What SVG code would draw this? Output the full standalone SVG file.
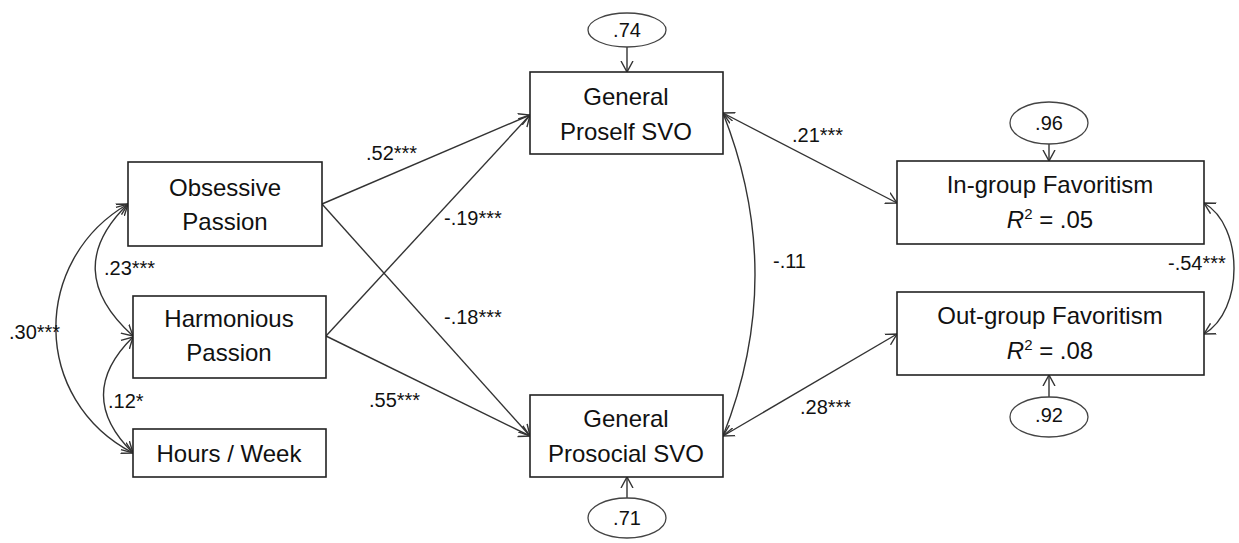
<svg xmlns="http://www.w3.org/2000/svg" width="1239" height="543" viewBox="0 0 1239 543">
<style>
.box{fill:#fff;stroke:#222;stroke-width:1.6}
.ell{fill:#fff;stroke:#444;stroke-width:1.3}
.nt{font-family:"Liberation Sans",Arial,sans-serif;font-size:24px;fill:#111;text-anchor:middle}
.lb{font-family:"Liberation Sans",Arial,sans-serif;font-size:20px;fill:#111}
.et{font-family:"Liberation Sans",Arial,sans-serif;font-size:20px;fill:#111;text-anchor:middle}
.c{fill:none;stroke:#333;stroke-width:1.4}
.one{marker-end:url(#ah)}
.two{marker-end:url(#ah);marker-start:url(#ah)}
</style>
<defs>
<marker id="ah" markerUnits="userSpaceOnUse" markerWidth="14" markerHeight="14" refX="11" refY="6" orient="auto-start-reverse" viewBox="0 0 14 12">
<path d="M0,0 L11,6 L0,12" fill="none" stroke="#333" stroke-width="1.4"/>
</marker>
</defs>
<g id="connectors">
<line class="c one" x1="322" y1="204" x2="530" y2="115"/>
<line class="c one" x1="322" y1="204" x2="530" y2="436"/>
<line class="c one" x1="326" y1="336" x2="530" y2="115"/>
<line class="c one" x1="326" y1="336" x2="530" y2="436"/>
<line class="c two" x1="723" y1="113" x2="897" y2="203"/>
<line class="c two" x1="723" y1="436" x2="897" y2="334"/>
<path class="c two" d="M723,113 Q787,275 723,436"/>
<path class="c two" d="M1204,203 C1244,226 1244,311 1204,334"/>
<path class="c two" d="M128,204 Q60,270 133,336"/>
<path class="c two" d="M133,337 Q74,395 133,453"/>
<path class="c two" d="M128,204 C31,260 31,400 133,453"/>
<line class="c one" x1="627" y1="47" x2="627" y2="72"/>
<line class="c one" x1="627" y1="498" x2="627" y2="477"/>
<line class="c one" x1="1049" y1="144" x2="1049" y2="161"/>
<line class="c one" x1="1049" y1="398" x2="1049" y2="375"/>
<text class="lb" x="366" y="160">.52***</text>
<text class="lb" x="444" y="225">-.19***</text>
<text class="lb" x="444" y="324">-.18***</text>
<text class="lb" x="369" y="407">.55***</text>
<text class="lb" x="104" y="275">.23***</text>
<text class="lb" x="9" y="339">.30***</text>
<text class="lb" x="108" y="408">.12*</text>
<text class="lb" x="792" y="142">.21***</text>
<text class="lb" x="773" y="268">-.11</text>
<text class="lb" x="800" y="414">.28***</text>
<text class="lb" x="1168" y="270">-.54***</text>
</g>
<g id="obsessive">
<rect class="box" x="128" y="162" width="194" height="84"/>
<text class="nt" x="225" y="196">Obsessive</text>
<text class="nt" x="225" y="230">Passion</text>
</g>
<g id="harmonious">
<rect class="box" x="133" y="296" width="193" height="82"/>
<text class="nt" x="229" y="327">Harmonious</text>
<text class="nt" x="229" y="361">Passion</text>
</g>
<g id="hours">
<rect class="box" x="133" y="429" width="193" height="48"/>
<text class="nt" x="229" y="462">Hours / Week</text>
</g>
<g id="proself">
<rect class="box" x="530" y="72" width="193" height="82"/>
<text class="nt" x="626" y="105">General</text>
<text class="nt" x="626" y="140">Proself SVO</text>
</g>
<g id="prosocial">
<rect class="box" x="530" y="395" width="193" height="82"/>
<text class="nt" x="626" y="427">General</text>
<text class="nt" x="626" y="462">Prosocial SVO</text>
</g>
<g id="ingroup">
<rect class="box" x="897" y="161" width="307" height="83"/>
<text class="nt" x="1050" y="193">In-group Favoritism</text>
<text class="nt" x="1050" y="228"><tspan font-style="italic">R</tspan><tspan font-size="15" dy="-9">2</tspan><tspan dy="9"> = .05</tspan></text>
</g>
<g id="outgroup">
<rect class="box" x="897" y="292" width="307" height="83"/>
<text class="nt" x="1050" y="324">Out-group Favoritism</text>
<text class="nt" x="1050" y="359"><tspan font-style="italic">R</tspan><tspan font-size="15" dy="-9">2</tspan><tspan dy="9"> = .08</tspan></text>
</g>
<g id="e_proself">
<ellipse class="ell" cx="627" cy="30" rx="39" ry="17"/>
<text class="et" x="627" y="37">.74</text>
</g>
<g id="e_prosocial">
<ellipse class="ell" cx="627" cy="518" rx="39" ry="20"/>
<text class="et" x="627" y="525">.71</text>
</g>
<g id="e_ingroup">
<ellipse class="ell" cx="1049" cy="123" rx="39" ry="21"/>
<text class="et" x="1049" y="130">.96</text>
</g>
<g id="e_outgroup">
<ellipse class="ell" cx="1049" cy="417" rx="39" ry="20"/>
<text class="et" x="1049" y="422">.92</text>
</g>
</svg>
